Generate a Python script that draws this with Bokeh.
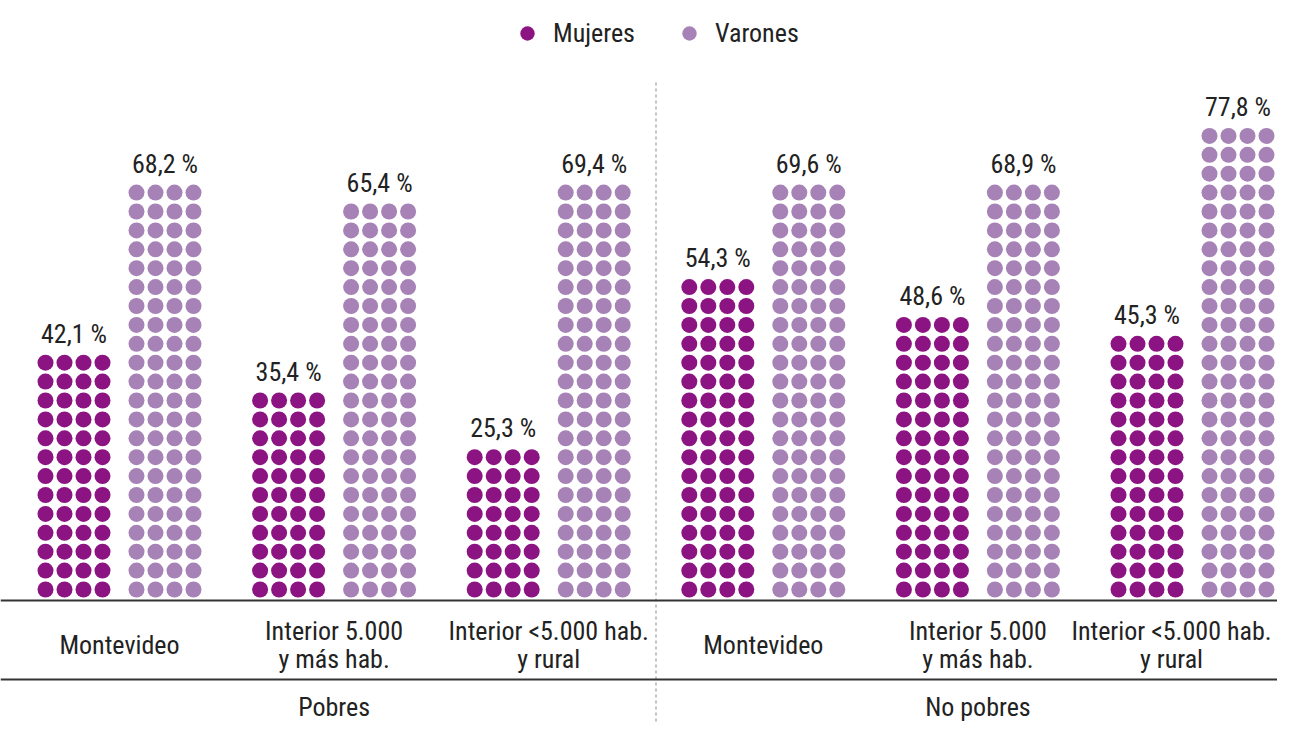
from bokeh.plotting import figure
from bokeh.models import Range1d, Legend, LegendItem, Span
from bokeh.core.properties import value
from bokeh.embed import file_html
from bokeh.resources import INLINE

# ---------------- data ----------------
groups = ["Pobres", "No pobres"]
categories = ["Montevideo", "Interior 5.000\ny más hab.", "Interior <5.000 hab.\ny rural"]
series = ["Mujeres", "Varones"]
mujeres = [42.1, 35.4, 25.3, 54.3, 48.6, 45.3]
varones = [68.2, 65.4, 69.4, 69.6, 68.9, 77.8]
colors = ["#8c1382", "#a682b6"]
pct_per_row = 3.15   # each row of 4 dots ~ 3.15 %
dots_per_row = 4

# ---------------- layout ----------------
W, H = 1277, 722
FONT = "Roboto Condensed"
FS = "26px"
TXT = "#222222"
cat_px = 214.6          # px between category centres
first_px = 119          # canvas x of first category centre
px_pct = 6.0            # px per percent unit on y
base_px = 600           # canvas y of the baseline
dot_pitch_px = 18.9
ser_off_px = 45.5

xu = 1.0 / cat_px
yu = 1.0 / px_pct

p = figure(width=W, height=H, output_backend="svg", toolbar_location=None,
           x_range=Range1d(-first_px * xu, (W - first_px) * xu),
           y_range=Range1d(-(H - base_px) * yu, base_px * yu),
           min_border=0, outline_line_color=None)
p.axis.visible = False
p.grid.visible = False
p.background_fill_color = "white"
p.border_fill_color = "white"

all_cats = [c for g in groups for c in categories]

def ypx(py):
    return (base_px - py) * yu

renderers = []
for si, (name, vals) in enumerate(zip(series, [mujeres, varones])):
    xs, ys = [], []
    lx, ly, lt = [], [], []
    for ci, v in enumerate(vals):
        cx = ci + (2 * si - 1) * ser_off_px * xu
        rows = int(round(v / pct_per_row))
        for r in range(rows):
            yc = (11 + r * dot_pitch_px) * yu
            for k in range(dots_per_row):
                xs.append(cx + (k - (dots_per_row - 1) / 2) * 19.0 * xu)
                ys.append(yc)
        lx.append(cx)
        ly.append((11 + (rows - 1) * dot_pitch_px) * yu)
        lt.append(f"{v:.1f}".replace(".", ",") + " %")
    r_ = p.scatter(x=xs, y=ys, size=16, marker="circle", fill_color=colors[si],
                   line_color=None)
    renderers.append(r_)
    p.text(x=lx, y=ly, text=lt, y_offset=-29, text_align="center",
           text_baseline="middle", text_font=value(FONT),
           text_font_size=FS, text_color=TXT)

# baseline & lower rule
for loc_px in [base_px, 679]:
    p.add_layout(Span(location=ypx(loc_px), dimension="width",
                      line_color="#333333", line_width=2))

# dashed separator between groups
sep_x = len(categories) - 0.5
p.segment(x0=[sep_x], y0=[ypx(82)], x1=[sep_x], y1=[ypx(H)],
          line_color="#b0b0b0", line_width=1.5, line_dash="3 3")

# category labels (last one nudged left to stay inside the canvas)
tx, ty, tt, tox = [], [], [], []
for ci, c in enumerate(all_cats):
    lines = c.split("\n")
    nudge = -21 if ci == len(all_cats) - 1 else 0
    if len(lines) == 1:
        tx.append(ci); ty.append(ypx(644)); tt.append(lines[0]); tox.append(nudge)
    else:
        for li, ln in enumerate(lines):
            tx.append(ci); ty.append(ypx(630 + 28 * li)); tt.append(ln); tox.append(nudge)
p.text(x=tx, y=ty, text=tt, x_offset=tox, text_align="center", text_baseline="middle",
       text_font=value(FONT), text_font_size=FS, text_color=TXT)

# group labels
gx = [gi * len(categories) + (len(categories) - 1) / 2 for gi in range(len(groups))]
gy = [ypx(706)] * len(groups)
p.text(x=gx, y=gy, text=groups, text_align="center", text_baseline="middle",
       text_font=value(FONT), text_font_size=FS, text_color=TXT)

# legend
legend = Legend(items=[LegendItem(label=s, renderers=[r]) for s, r in zip(series, renderers)],
                orientation="horizontal", location=(509, H - 51),
                glyph_width=36, glyph_height=36, label_standoff=8, spacing=36,
                padding=0, margin=0, border_line_color=None, background_fill_alpha=0,
                label_text_font=FONT, label_text_font_size=FS,
                label_text_color=TXT, label_text_baseline="middle")
p.add_layout(legend, "center")

open("out.html", "w").write(file_html(p, INLINE))
